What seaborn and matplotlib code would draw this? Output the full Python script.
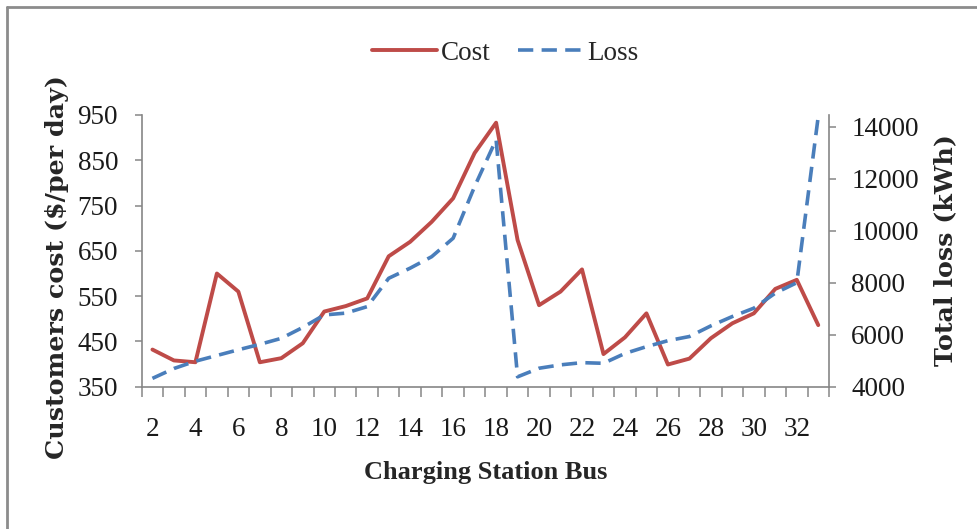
import matplotlib
matplotlib.use("Agg")
import matplotlib.pyplot as plt
from matplotlib.lines import Line2D
from matplotlib.ticker import FixedLocator, NullFormatter
import seaborn as sns
import pandas as pd

# Charging station bus number (candidate location)
bus = list(range(2, 34))

# Customers cost in $/per day for each bus
cost = [432, 408, 404, 600, 560, 404, 413, 446, 516, 528, 545, 638, 670, 714,
        766, 866, 933, 674, 530, 560, 609, 422, 459, 512, 399, 412, 457, 490,
        512, 566, 586, 486]

# Total network loss in kWh for each bus
loss = [4320, 4700, 4980, 5200, 5420, 5630, 5860, 6280, 6760, 6830, 7080, 8170,
        8560, 9000, 9710, 11700, 13500, 4380, 4710, 4840, 4925, 4900, 5280, 5540,
        5770, 5930, 6340, 6700, 7020, 7600, 8000, 14400]

cost_ticks = [350, 450, 550, 650, 750, 850, 950]
loss_ticks = [4000, 6000, 8000, 10000, 12000, 14000]
bus_labels = list(range(2, 33, 2))

df = pd.DataFrame({"bus": bus, "cost": cost, "loss": loss})

sns.set_style("white")
plt.rcParams["lines.scale_dashes"] = False
plt.rcParams["font.family"] = ["Liberation Serif", "DejaVu Serif"]

RED = "#BE4B48"
BLUE = "#4A7EBB"
GREY = "#868686"

fig = plt.figure(figsize=(9.78, 5.29), dpi=100)
ax = fig.add_axes([141.7 / 978, 1 - 386.7 / 529, 687.3 / 978, 271.7 / 529])
ax2 = ax.twinx()

sns.lineplot(data=df, x="bus", y="cost", ax=ax, color=RED, linewidth=2.8,
             label="Cost", legend=False)
sns.lineplot(data=df, x="bus", y="loss", ax=ax2, color=BLUE, linewidth=2.6,
             linestyle=(0, (11, 6)), label="Loss", legend=False)

ax.set_xlim(1.5, 33.5)
ax.set_ylim(350, 950)
ax2.set_ylim(4000, 14450)

ax.set_yticks(cost_ticks)
ax2.set_yticks(loss_ticks)
ax.set_xticks(bus_labels)
ax.set_xticklabels([str(b) for b in bus_labels])
ax.xaxis.set_minor_locator(FixedLocator([b + 0.5 for b in range(1, 34)]))
ax.xaxis.set_minor_formatter(NullFormatter())

for a in (ax, ax2):
    for s in a.spines.values():
        s.set_visible(False)
    a.grid(False)
    a.set_facecolor("none")

ax.spines["left"].set_visible(True)
ax.spines["bottom"].set_visible(True)
ax2.spines["right"].set_visible(True)
for s in (ax.spines["left"], ax.spines["bottom"], ax2.spines["right"]):
    s.set_color(GREY)
    s.set_linewidth(1.2)

ax.tick_params(axis="y", which="major", direction="out", length=5, width=1.1,
               color=GREY, pad=12, labelsize=19.5, labelcolor="#1a1a1a", left=True)
ax2.tick_params(axis="y", which="major", direction="out", length=5, width=1.1,
                color=GREY, pad=11, labelsize=19.5, labelcolor="#1a1a1a", right=True)
ax.tick_params(axis="x", which="major", length=0, pad=22, labelsize=19.5,
               labelcolor="#1a1a1a", bottom=True)
ax.tick_params(axis="x", which="minor", direction="out", length=7, width=1.1,
               color=GREY, bottom=True)

ax.set_xlabel("Charging Station Bus", fontsize=19, fontweight="bold",
              family="Liberation Serif", va="center")
ax.xaxis.set_label_coords(0.5, -0.314)
ax.set_ylabel("Customers cost ($/per day)", fontsize=18.3, fontweight="bold",
              family="DejaVu Serif", va="center")
ax.yaxis.set_label_coords(-0.123, 0.442)
ax2.set_ylabel("Total loss (kWh)", fontsize=18.3, fontweight="bold",
               family="DejaVu Serif", va="center", rotation=90)
ax2.yaxis.set_label_coords(1.169, 0.503)

handles = [ax.lines[0], ax2.lines[0]]
fig.legend(handles, ["Cost", "Loss"], loc="center", ncol=2,
           bbox_to_anchor=(505 / 978, 1 - 53 / 529), frameon=False,
           fontsize=19.5, handlelength=2.4, handletextpad=0.15,
           columnspacing=1.0)

# Chart area frame
fig.add_artist(Line2D([7 / 978, 7 / 978], [0, 1 - 7 / 529],
                      transform=fig.transFigure, color="#8c8c8c", linewidth=2))
fig.add_artist(Line2D([7 / 978, 1], [1 - 7 / 529, 1 - 7 / 529],
                      transform=fig.transFigure, color="#8c8c8c", linewidth=2))

fig.savefig("out.png", dpi=100)
